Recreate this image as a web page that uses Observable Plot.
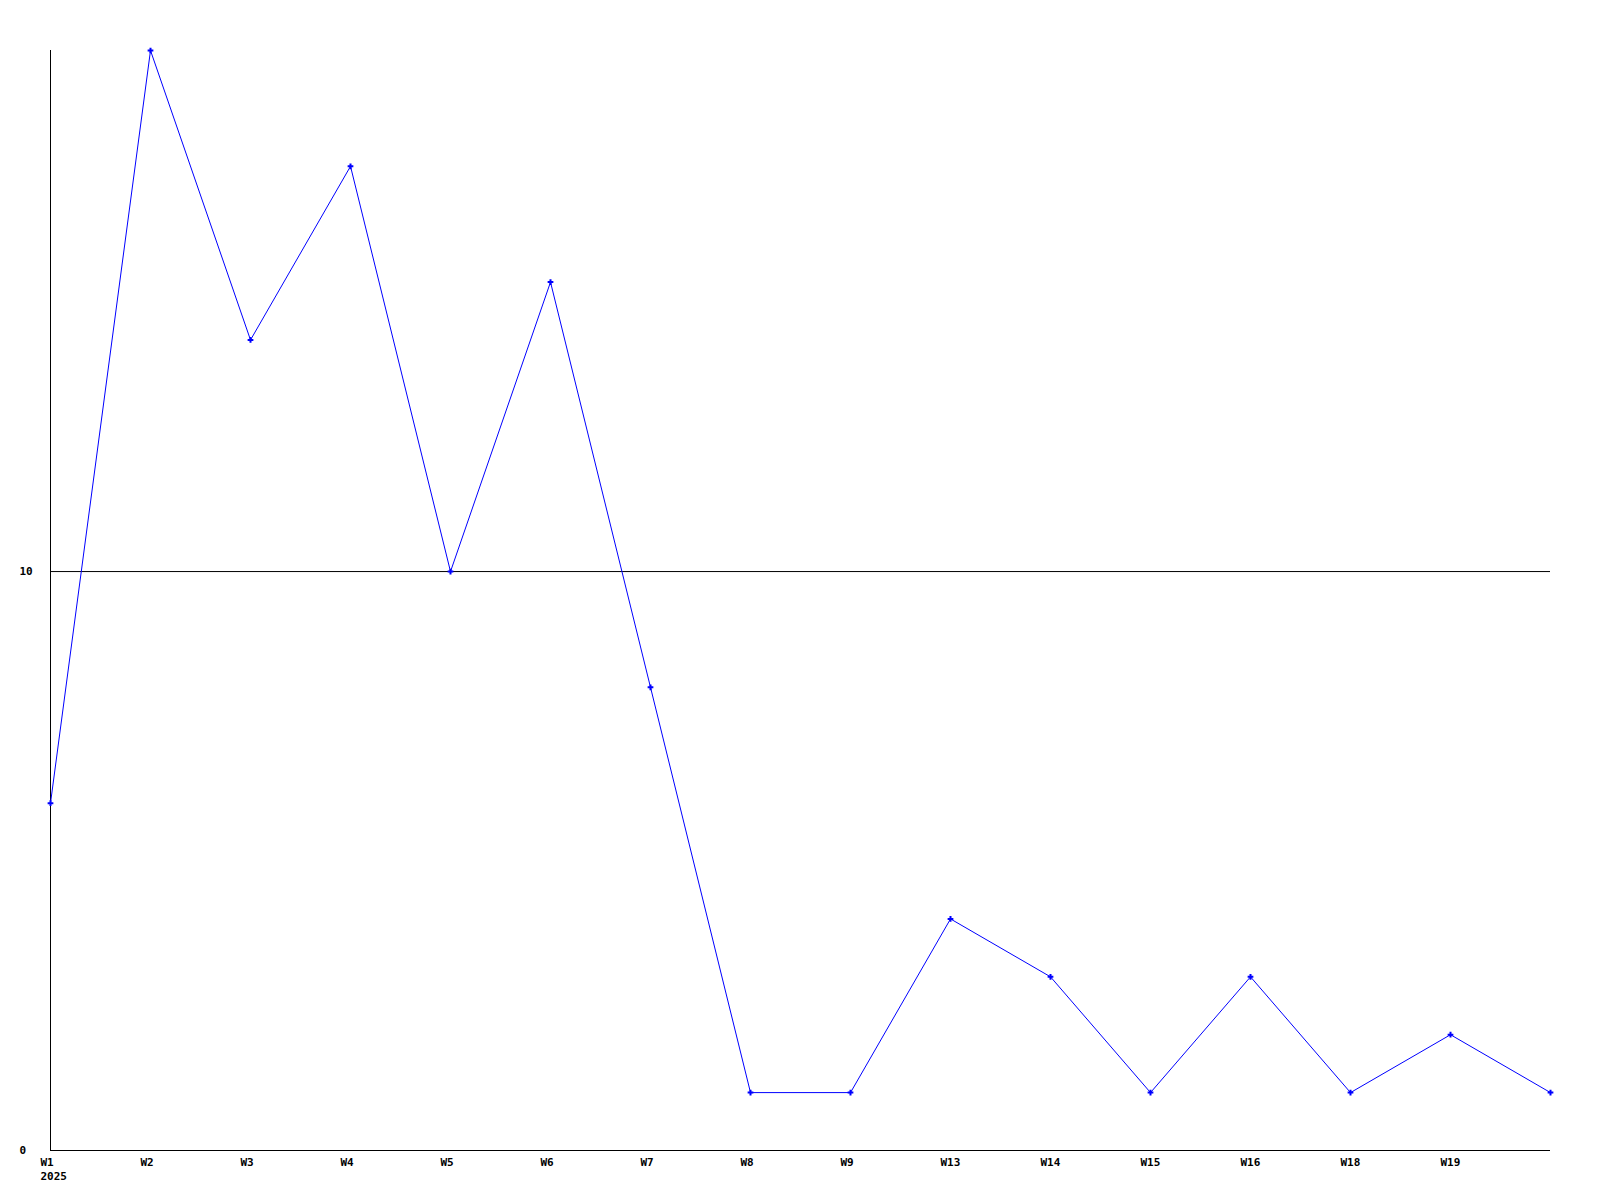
<!DOCTYPE html>
<html>
<head>
<meta charset="utf-8">
<script src="https://cdn.jsdelivr.net/npm/d3@7"></script>
<script src="https://cdn.jsdelivr.net/npm/@observablehq/plot@0.6"></script>
<style>
  html, body { margin: 0; padding: 0; background: #fff; }
  svg { display: block; }
</style>
</head>
<body>
<div id="chart"></div>
<script>
const weekLabels = ["W1\n2025", "W2", "W3", "W4", "W5", "W6", "W7", "W8", "W9", "W13", "W14", "W15", "W16", "W18", "W19"];
const values = [6, 19, 14, 17, 10, 15, 8, 1, 1, 4, 3, 1, 3, 1, 2, 1];
const yTicks = [0, 10];

const data = values.map((v, i) => ({i, v}));

const chart = Plot.plot({
  width: 1600,
  height: 1200,
  marginLeft: 50,
  marginRight: 50,
  marginTop: 50,
  marginBottom: 50,
  style: {fontFamily: "'DejaVu Sans Mono', monospace", fontSize: "11px", fontWeight: "bold", color: "#000", background: "#fff"},
  x: {type: "linear", domain: [0, values.length - 1]},
  y: {domain: [0, 19]},
  marks: [
    Plot.ruleY([10], {stroke: "#000", strokeWidth: 1, strokeOpacity: 1}),
    Plot.ruleX([0], {stroke: "#000", strokeWidth: 1}),
    Plot.ruleY([0], {stroke: "#000", strokeWidth: 1}),
    Plot.axisX({
      ticks: d3.range(weekLabels.length),
      tickFormat: i => weekLabels[i],
      tickSize: 0,
      tickPadding: 5,
      textAnchor: "start",
      dx: -10,
      lineHeight: 1.3,
      label: null,
      fill: "#000"
    }),
    Plot.axisY({
      ticks: yTicks,
      tickSize: 0,
      tickPadding: 31,
      textAnchor: "start",
      label: null,
      fill: "#000"
    }),
    Plot.line(data, {x: "i", y: "v", stroke: "#0000ff", strokeWidth: 1}),
    Plot.dot(data, {x: "i", y: "v", symbol: "plus", r: 2, stroke: "#0000ff", strokeWidth: 2})
  ]
});
document.getElementById("chart").appendChild(chart);
</script>
</body>
</html>
